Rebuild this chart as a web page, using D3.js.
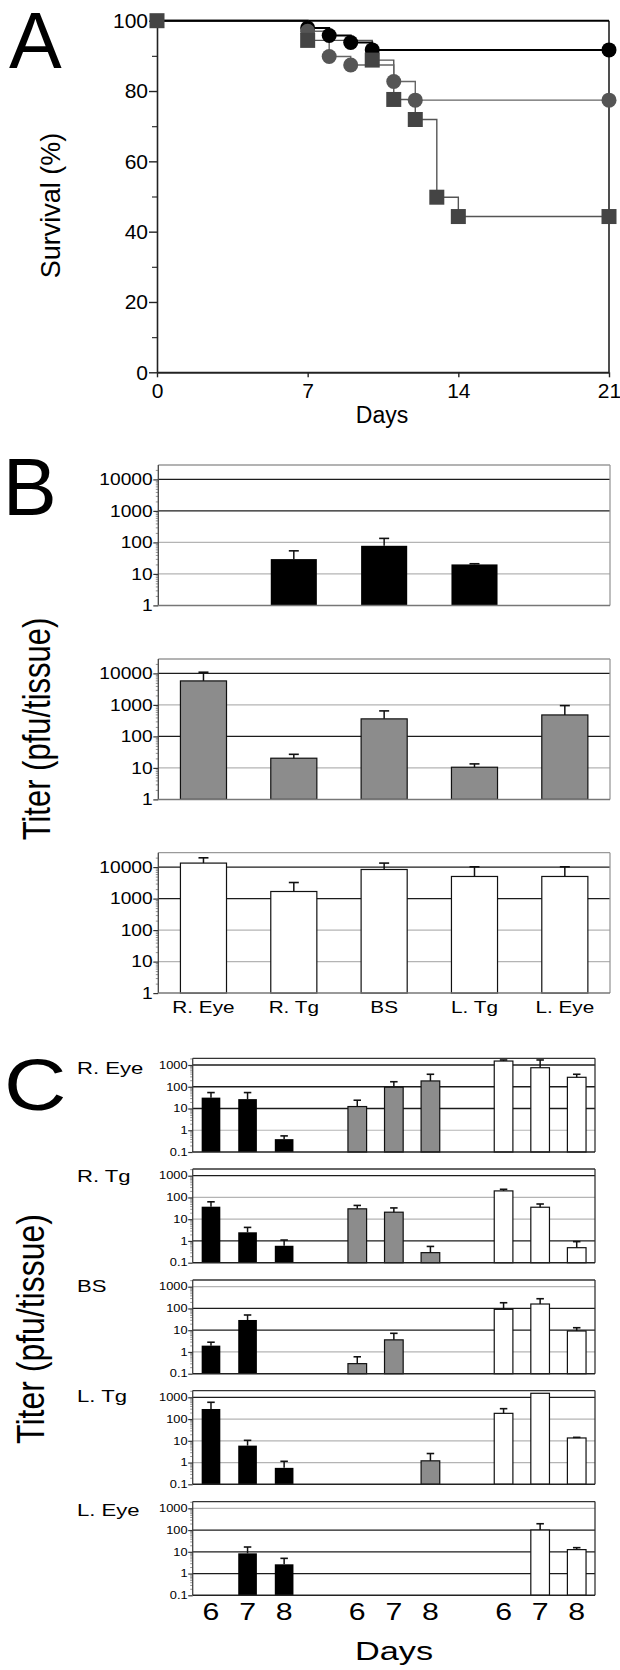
<!DOCTYPE html>
<html><head><meta charset="utf-8">
<script src="https://cdn.jsdelivr.net/npm/d3@7"></script>
<style>
body{margin:0;background:#fff}
svg{display:block}
text{font-family:"Liberation Sans",Arial,Helvetica,sans-serif;fill:#000}
</style>
</head><body>
<svg id="fig" width="620" height="1670"></svg>
<script>
// ================= DATA =================
// Panel A : survival (%) by day
const survControlDays = [0, 21];
const survControl     = [100, 100];
const survBlackDays   = [0, 7, 8, 9, 10, 21];
const survBlack       = [100, 97.9, 95.8, 93.8, 91.7, 91.7];
const survGrayCDays   = [0, 7, 8, 9, 11, 12, 21];
const survGrayC       = [100, 97.0, 89.8, 87.4, 82.7, 77.4, 77.4];
const survGraySDays   = [0, 7, 10, 11, 12, 13, 14, 21];
const survGrayS       = [100, 94.4, 88.8, 77.6, 71.9, 49.8, 44.3, 44.3];
const survYTicks = [0, 20, 40, 60, 80, 100];
const survYMinor = [10, 30, 50, 70, 90];
const survXTicks = [0, 7, 14, 21];

// Panel B : titer (pfu/tissue) per tissue, three groups
const tissues = ["R. Eye", "R. Tg", "BS", "L. Tg", "L. Eye"];
const titerBBlack    = [null, 29.5, 78, 20, null];
const titerBBlackErr = [null, 54, 134, 21, null];
const titerBGray     = [5770, 20.3, 360, 10.5, 480];
const titerBGrayErr  = [10900, 27, 645, 13.4, 950];
const titerBWhite    = [13400, 1680, 8390, 5040, 5040];
const titerBWhiteErr = [19700, 3240, 13400, 10200, 10200];
const bTicks = [1, 10, 100, 1000, 10000];
const bTickLabels = ["1", "10", "100", "1000", "10000"];

// Panel C : titer per tissue (rows) by day 6,7,8 for three groups
const cDays = ["6", "7", "8"];
const cRows = ["R. Eye", "R. Tg", "BS", "L. Tg", "L. Eye"];
const cBlack    = [[31.6, 27, 0.39], [37.6, 2.5, 0.6], [1.95, 29.5, null], [290, 6, 0.57], [null, 8.5, 2.66]];
const cBlackErr = [[54, 54, 0.55], [63, 4.2, 1.1], [2.8, 50, null], [590, 10.5, 1.14], [null, 16.6, 5.0]];
const cGray     = [[12.3, 95, 185], [30, 21, 0.29], [0.29, 3.6, null], [null, null, 1.2], [null, null, null]];
const cGrayErr  = [[24, 170, 375], [43, 33, 0.56], [0.6, 7.2, null], [null, null, 2.6], [null, null, null]];
const cWhite    = [[1520, 750, 272], [200, 35.5, 0.49], [91, 160, 9.2], [183, 1530, 13.5], [null, 100, 12.6]];
const cWhiteErr = [[1700, 1700, 375], [237, 50, 0.93], [183, 280, 13], [300, 1530, 14.4], [null, 195, 15.5]];
const cTicks = [0.1, 1, 10, 100, 1000];
const cTickLabels = ["0.1", "1", "10", "100", "1000"];

// ================= DRAWING =================
const svg = d3.select("#fig");
const DARK = "#1c1c1c", LIGHT = "#b4b4b4";

function txt(g, x, y, s, size, anchor, sx, rot, weight) {
  return g.append("text")
    .attr("transform", `translate(${x},${y}) scale(${sx || 1},1)` + (rot ? ` rotate(${rot})` : ""))
    .attr("font-size", size)
    .attr("text-anchor", anchor || "start")
    .attr("font-weight", weight || "normal")
    .text(s);
}

// ---------- Panel A ----------
const gA = svg.append("g");
const xA = d3.scaleLinear().domain([0, 21]).range([157, 609]);
const yA = d3.scaleLinear().domain([0, 100]).range([372.3, 20.7]);

txt(gA, 9, 68.3, "A", 79, "start");
txt(gA, 60, 205.5, "Survival (%)", 27, "middle", 1, -90);
txt(gA, xA(10.5) - 1, 423, "Days", 23, "middle");

const axYMinor = d3.axisLeft(yA).tickValues(survYMinor).tickSize(5).tickFormat("").tickSizeOuter(0);
gA.append("g").attr("transform", `translate(${xA(0)},0)`).call(axYMinor)
  .call(g => g.select(".domain").remove())
  .call(g => g.selectAll("line").attr("stroke", "#333").attr("stroke-width", 1.2));
const axY = d3.axisLeft(yA).tickValues(survYTicks).tickSize(8).tickPadding(1).tickSizeOuter(0);
gA.append("g").attr("transform", `translate(${xA(0)},0)`).call(axY)
  .call(g => g.select(".domain").attr("stroke", "#222").attr("stroke-width", 1.6))
  .call(g => g.selectAll("line").attr("stroke", "#222").attr("stroke-width", 1.4))
  .call(g => g.selectAll("text").attr("font-size", 21).attr("font-family", '"Liberation Sans",Arial,sans-serif').attr("fill", "#000"));
const axX = d3.axisBottom(xA).tickValues(survXTicks).tickSize(5).tickPadding(6).tickSizeOuter(0);
gA.append("g").attr("transform", `translate(0,${yA(0)})`).call(axX)
  .call(g => g.select(".domain").attr("stroke", "#222").attr("stroke-width", 2))
  .call(g => g.selectAll("line").attr("stroke", "#222").attr("stroke-width", 1.4))
  .call(g => g.selectAll("text").attr("font-size", 21).attr("font-family", '"Liberation Sans",Arial,sans-serif').attr("fill", "#000"));
gA.append("line").attr("x1", xA(21)).attr("x2", xA(21)).attr("y1", yA(100)).attr("y2", yA(0))
  .attr("stroke", "#222").attr("stroke-width", 1.6);

const stepLine = d3.line().x(d => xA(d[0])).y(d => yA(d[1])).curve(d3.curveStepAfter);
const zipS = (a, b) => a.map((d, i) => [d, b[i]]);
const sControl = zipS(survControlDays, survControl);
const sBlack = zipS(survBlackDays, survBlack);
const sGrayC = zipS(survGrayCDays, survGrayC);
const sGrayS = zipS(survGraySDays, survGrayS);

gA.append("path").attr("d", stepLine(sControl)).attr("fill", "none").attr("stroke", "#000").attr("stroke-width", 2);
gA.append("path").attr("d", stepLine(sGrayS)).attr("fill", "none").attr("stroke", "#555").attr("stroke-width", 1.4);
gA.append("path").attr("d", stepLine(sGrayC)).attr("fill", "none").attr("stroke", "#666").attr("stroke-width", 1.4);
gA.append("path").attr("d", stepLine(sBlack)).attr("fill", "none").attr("stroke", "#000").attr("stroke-width", 2);

gA.selectAll(".cb").data(sBlack.slice(1)).join("circle").attr("class", "cb")
  .attr("cx", d => xA(d[0])).attr("cy", d => yA(d[1])).attr("r", 7.5).attr("fill", "#000");
gA.selectAll(".cg").data(sGrayC.slice(1)).join("circle").attr("class", "cg")
  .attr("cx", d => xA(d[0])).attr("cy", d => yA(d[1])).attr("r", 7.5).attr("fill", "#555");
gA.selectAll(".sq").data(sGrayS).join("rect").attr("class", "sq")
  .attr("x", d => xA(d[0]) - 7.5).attr("y", d => yA(d[1]) - 7.5).attr("width", 15).attr("height", 15).attr("fill", "#444");

// ---------- generic log bar chart ----------
function logChart(cfg) {
  const g = svg.append("g");
  const y = d3.scaleLog().domain(cfg.domain).range([cfg.bottom, cfg.top]);
  cfg.ticks.slice(1).forEach(t => {
    g.append("line").attr("x1", cfg.x0).attr("x2", cfg.x1).attr("y1", y(t)).attr("y2", y(t))
      .attr("stroke", cfg.dark.includes(t) ? DARK : LIGHT).attr("stroke-width", cfg.dark.includes(t) ? 1.3 : 1.2);
  });
  g.append("line").attr("x1", cfg.x0).attr("x2", cfg.x1).attr("y1", cfg.top).attr("y2", cfg.top)
    .attr("stroke", cfg.frame).attr("stroke-width", 1.3);
  g.append("line").attr("x1", cfg.x1).attr("x2", cfg.x1).attr("y1", cfg.top).attr("y2", cfg.bottom)
    .attr("stroke", cfg.frame).attr("stroke-width", 1.3);
  cfg.series.forEach(s => {
    s.values.forEach((v, i) => {
      if (v == null) return;
      const xc = cfg.xPos(i, s.group);
      const bw = cfg.bw;
      g.append("rect").attr("x", xc - bw / 2).attr("y", y(v)).attr("width", bw).attr("height", cfg.bottom - y(v))
        .attr("fill", s.fill).attr("stroke", "#111").attr("stroke-width", s.fill === "#000" ? 0 : 1.2);
      const e = s.errs[i];
      if (e != null && e > v) {
        g.append("line").attr("x1", xc).attr("x2", xc).attr("y1", y(v)).attr("y2", y(e))
          .attr("stroke", "#111").attr("stroke-width", 1.5);
        g.append("line").attr("x1", xc - cfg.cap / 2).attr("x2", xc + cfg.cap / 2).attr("y1", y(e)).attr("y2", y(e))
          .attr("stroke", "#111").attr("stroke-width", 1.6);
      }
    });
  });
  const minors = [];
  for (let k = Math.round(Math.log10(cfg.domain[0])); k < Math.log10(cfg.domain[1]); k++) {
    for (let m = 2; m <= 9; m++) { const v = m * Math.pow(10, k); if (v < cfg.domain[1]) minors.push(v); }
  }
  g.append("g").attr("transform", `translate(${cfg.x0},0)`)
    .call(d3.axisLeft(y).tickValues(minors).tickSize(2.5).tickFormat("").tickSizeOuter(0))
    .call(a => a.select(".domain").remove())
    .call(a => a.selectAll("line").attr("stroke", "#777").attr("stroke-width", 0.8));
  g.append("g").attr("transform", `translate(${cfg.x0},0)`)
    .call(d3.axisLeft(y).tickValues(cfg.ticks).tickSize(cfg.tick).tickFormat("").tickSizeOuter(0))
    .call(a => a.select(".domain").attr("d", `M0,${cfg.top}V${cfg.bottom}`).attr("stroke", "#444").attr("stroke-width", 1.3))
    .call(a => a.selectAll("line").attr("stroke", "#333").attr("stroke-width", 1.2));
  g.append("line").attr("x1", cfg.x0).attr("x2", cfg.x1).attr("y1", cfg.bottom).attr("y2", cfg.bottom)
    .attr("stroke", cfg.axis).attr("stroke-width", 1.5);
  cfg.ticks.forEach((t, i) => {
    txt(g, cfg.x0 - cfg.tick - 0.6, y(t) + cfg.fs * 0.36, cfg.tickLabels[i], cfg.fs, "end", cfg.sx);
  });
  return { g, y };
}

// ---------- Panel B ----------
const gBL = svg.append("g");
txt(gBL, 2.8, 515, "B", 81, "start");
txt(gBL, 49.6, 729, "Titer (pfu/tissue)", 31, "middle", 1.25, -90);

const xB = d3.scaleBand().domain(tissues).range([158.3, 610]).paddingInner(0.49).paddingOuter(0.245);
const bTops = [465, 659, 852.7];
const bSeries = [
  { values: titerBBlack, errs: titerBBlackErr, fill: "#000", dark: [1000, 10000] },
  { values: titerBGray,  errs: titerBGrayErr,  fill: "#8c8c8c", dark: [100, 10000] },
  { values: titerBWhite, errs: titerBWhiteErr, fill: "#fff", dark: [1000, 10000] }
];
bSeries.forEach((s, k) => {
  logChart({
    x0: 158.3, x1: 610, top: bTops[k], bottom: bTops[k] + 140.4,
    domain: [1, Math.pow(10, 4.457)], ticks: bTicks, tickLabels: bTickLabels,
    dark: s.dark, frame: "#9a9a9a", axis: "#777",
    series: [{ values: s.values, errs: s.errs, fill: s.fill, group: 0 }],
    xPos: i => xB(tissues[i]) + xB.bandwidth() / 2, bw: xB.bandwidth(), cap: 10,
    tick: 5, fs: 16, sx: 1.2
  });
});
tissues.forEach(t => {
  txt(gBL, xB(t) + xB.bandwidth() / 2, 1013, t, 17, "middle", 1.22);
});

// ---------- Panel C ----------
const gCL = svg.append("g");
txt(gCL, 4, 1110, "C", 72, "start", 1.2);
txt(gCL, 43.7, 1329, "Titer (pfu/tissue)", 32, "middle", 1.2, -90);

const slots = d3.range(11);
const xC = d3.scaleBand().domain(slots).range([192.7, 595]).paddingInner(0.49).paddingOuter(0.245);
const cSlot = (dayIdx, grp) => grp * 4 + dayIdx;
const cPos = (i, grp) => xC(cSlot(i, grp)) + xC.bandwidth() / 2;
const c1000 = [1065, 1175.7, 1286.7, 1397.3, 1508.3];
const cDark = [[10, 100, 1000], [1, 1000], [10, 100], [1000], [1, 10, 100]];
const cLabelBase = [1074, 1181.7, 1291.7, 1401.7, 1515.7];
cRows.forEach((r, k) => {
  const yc = c1000[k];
  logChart({
    x0: 192.7, x1: 595, top: yc - 6.7, bottom: yc + 87,
    domain: [0.1, Math.pow(10, 3 + 6.7 / 21.75)], ticks: cTicks, tickLabels: cTickLabels,
    dark: cDark[k], frame: "#333", axis: "#222",
    series: [
      { values: cBlack[k], errs: cBlackErr[k], fill: "#000", group: 0 },
      { values: cGray[k], errs: cGrayErr[k], fill: "#8c8c8c", group: 1 },
      { values: cWhite[k], errs: cWhiteErr[k], fill: "#fff", group: 2 }
    ],
    xPos: cPos, bw: xC.bandwidth(), cap: 7.5,
    tick: 4.5, fs: 10.5, sx: 1.22
  });
  txt(gCL, 77, cLabelBase[k], r, 17, "start", 1.3);
});
[0, 1, 2].forEach(grp => cDays.forEach((d, i) => {
  txt(gCL, cPos(i, grp), 1620, d, 23.3, "middle", 1.3);
}));
txt(gCL, 394, 1660, "Days", 25.6, "middle", 1.34);
</script>
</body></html>
